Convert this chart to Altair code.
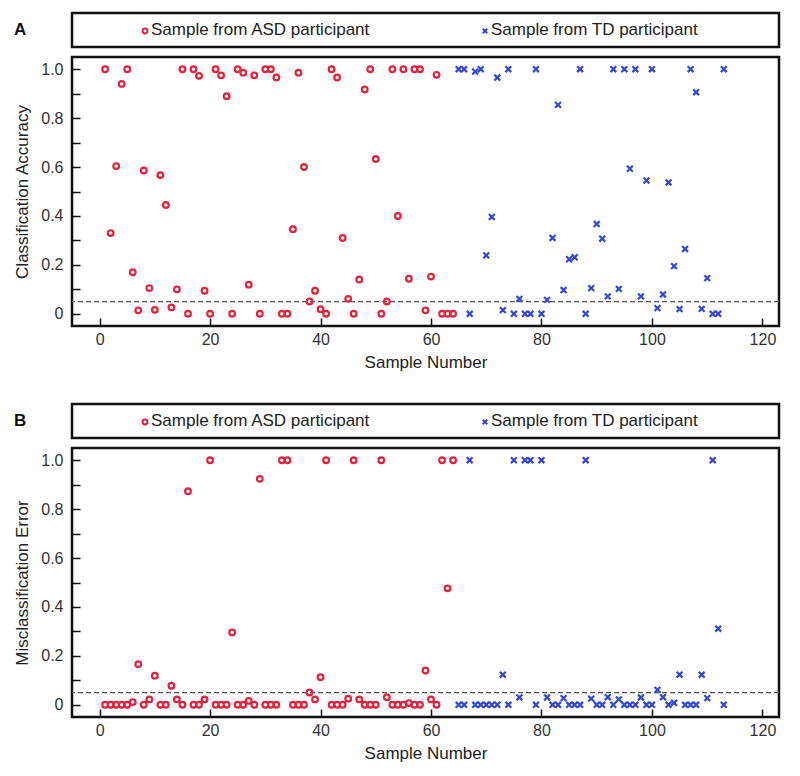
import altair as alt
import pandas as pd

# ---------------- data ----------------
asd_samples = list(range(1, 65))
td_samples = list(range(65, 114))

asd_accuracy = [1.0, 0.33, 0.604, 0.94, 1.0, 0.17, 0.014, 0.586, 0.105, 0.016,
                0.567, 0.445, 0.026, 0.10, 1.0, 0.0, 1.0, 0.973, 0.094, 0.0,
                1.0, 0.975, 0.89, 0.0, 1.0, 0.986, 0.119, 0.975, 0.0, 1.0,
                1.0, 0.966, 0.0, 0.0, 0.346, 0.986, 0.60, 0.05, 0.094, 0.019,
                0.0, 1.0, 0.966, 0.31, 0.061, 0.0, 0.14, 0.917, 1.0, 0.633,
                0.0, 0.05, 1.0, 0.40, 1.0, 0.143, 1.0, 1.0, 0.014, 0.152,
                0.977, 0.0, 0.0, 0.0]
td_accuracy = [1.0, 1.0, 0.0, 0.99, 1.0, 0.239, 0.396, 0.966, 0.015, 1.0,
               0.0, 0.061, 0.0, 0.0, 1.0, 0.0, 0.057, 0.31, 0.854, 0.097,
               0.223, 0.231, 1.0, 0.0, 0.105, 0.367, 0.307, 0.071, 1.0, 0.102,
               1.0, 0.593, 1.0, 0.071, 0.545, 1.0, 0.023, 0.079, 0.537, 0.195,
               0.019, 0.265, 1.0, 0.906, 0.02, 0.146, 0.0, 0.0, 1.0]

asd_error = [0.0, 0.0, 0.0, 0.0, 0.0, 0.011, 0.166, 0.0, 0.022, 0.119,
             0.0, 0.0, 0.078, 0.022, 0.0, 0.873, 0.0, 0.0, 0.022, 1.0,
             0.0, 0.0, 0.0, 0.296, 0.0, 0.0, 0.016, 0.0, 0.924, 0.0,
             0.0, 0.0, 1.0, 1.0, 0.0, 0.0, 0.0, 0.05, 0.022, 0.113,
             1.0, 0.0, 0.0, 0.0, 0.025, 1.0, 0.022, 0.0, 0.0, 0.0,
             1.0, 0.031, 0.0, 0.0, 0.0, 0.007, 0.0, 0.0, 0.14, 0.022,
             0.0, 1.0, 0.476, 1.0]
td_error = [0.0, 0.0, 1.0, 0.0, 0.0, 0.0, 0.0, 0.0, 0.123, 0.0,
            1.0, 0.03, 1.0, 1.0, 0.0, 1.0, 0.03, 0.0, 0.0, 0.027,
            0.0, 0.0, 0.0, 1.0, 0.025, 0.0, 0.0, 0.031, 0.0, 0.022,
            0.0, 0.0, 0.0, 0.03, 0.0, 0.0, 0.061, 0.031, 0.0, 0.008,
            0.123, 0.0, 0.0, 0.0, 0.123, 0.027, 1.0, 0.311, 0.0]

threshold = [0.05]
x_ticks = [0, 20, 40, 60, 80, 100, 120]
y_ticks = [0, 0.1, 0.2, 0.3, 0.4, 0.5, 0.6, 0.7, 0.8, 0.9, 1.0]
legend_labels = ["Sample from ASD participant", "Sample from TD participant"]
panel_letters = ["A", "B"]
y_titles = ["Classification Accuracy", "Misclassification Error"]

# ---------------- style ----------------
FONT = "Liberation Sans"
RED = "#e8203c"
BLUE = "#3447dc"
XPATH = "M-1,-1L1,1M-1,1L1,-1"
W, H, LH = 707, 269, 34


def legend(letter):
    base = alt.Chart(alt.Data(values=[{}])).properties(width=W, height=LH)
    letter_t = base.mark_text(text=letter, font=FONT, fontSize=17, fontWeight="bold",
                              align="left", baseline="middle", color="#111").encode(
        x=alt.value(-58), y=alt.value(LH / 2))
    c = base.mark_point(shape="circle", filled=False, size=24, strokeWidth=2,
                        color=RED, opacity=1).encode(x=alt.value(73), y=alt.value(LH / 2 + 1))
    t1 = base.mark_text(text=legend_labels[0], font=FONT, fontSize=17, align="left",
                        baseline="middle", color="#222").encode(x=alt.value(79), y=alt.value(LH / 2))
    xm = base.mark_point(shape=XPATH, filled=False, size=20, strokeWidth=2,
                         color=BLUE, opacity=1).encode(x=alt.value(413), y=alt.value(LH / 2 + 1))
    t2 = base.mark_text(text=legend_labels[1], font=FONT, fontSize=17, align="left",
                        baseline="middle", color="#222").encode(x=alt.value(419), y=alt.value(LH / 2))
    return alt.layer(letter_t, c, t1, xm, t2)


def panel(asd_vals, td_vals, ytitle):
    df_asd = pd.DataFrame({"sample": asd_samples, "value": asd_vals})
    df_td = pd.DataFrame({"sample": td_samples, "value": td_vals})
    df_thr = pd.DataFrame({"t": threshold})

    xscale = alt.Scale(domain=[-5, 123], nice=False, zero=False)
    yscale = alt.Scale(domain=[-0.05, 1.05], nice=False, zero=False)
    xaxis = alt.Axis(values=x_ticks, title="Sample Number", offset=-8, tickSize=8,
                     domain=False, grid=False, labelPadding=5, titlePadding=7,
                     tickColor="#111", tickWidth=1.5, labelFontSize=16, titleFontSize=17,
                     labelColor="#333", titleColor="#222", titleFontWeight="normal",
                     labelFont=FONT, titleFont=FONT)
    yaxis = alt.Axis(values=y_ticks, title=ytitle, offset=-8, tickSize=8,
                     domain=False, grid=False, labelPadding=9, titlePadding=9,
                     tickColor="#111", tickWidth=1.5, labelFontSize=16, titleFontSize=17,
                     labelColor="#333", titleColor="#222", titleFontWeight="normal",
                     labelFont=FONT, titleFont=FONT,
                     labelExpr="round(datum.value*10) % 2 == 0 ? (datum.value == 0 ? '0' : format(datum.value, '.1f')) : ''")

    rule = alt.Chart(df_thr).mark_rule(color="#555", strokeDash=[5, 3], strokeWidth=1.3).encode(
        y=alt.Y("t:Q", scale=yscale, axis=yaxis))
    pa = alt.Chart(df_asd).mark_point(shape="circle", filled=False, size=32, strokeWidth=2.2,
                                      color=RED, opacity=1).encode(
        x=alt.X("sample:Q", scale=xscale, axis=xaxis),
        y=alt.Y("value:Q", scale=yscale, axis=yaxis))
    pt = alt.Chart(df_td).mark_point(shape=XPATH, filled=False, size=34, strokeWidth=2.2,
                                     color=BLUE, opacity=1).encode(
        x=alt.X("sample:Q", scale=xscale, axis=xaxis),
        y=alt.Y("value:Q", scale=yscale, axis=yaxis))
    return alt.layer(rule, pa, pt).properties(width=W, height=H)


panelA = alt.vconcat(legend(panel_letters[0]), panel(asd_accuracy, td_accuracy, y_titles[0]), spacing=6)
panelB = alt.vconcat(legend(panel_letters[1]), panel(asd_error, td_error, y_titles[1]), spacing=6)

chart = alt.vconcat(panelA, panelB, spacing=30).properties(
    padding={"left": 4, "top": 3, "right": 4, "bottom": 4}
).configure(font=FONT, background="white").configure_view(
    stroke="#111", strokeWidth=2.5
)

chart.save("out.html", embed_options={"renderer": "svg", "actions": False})
